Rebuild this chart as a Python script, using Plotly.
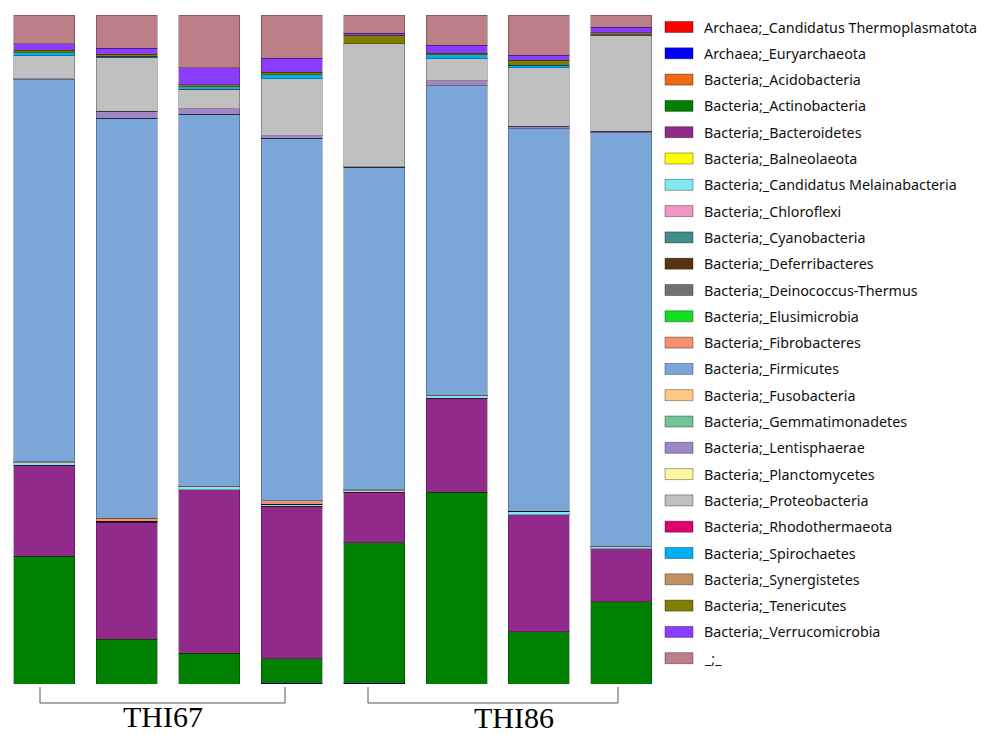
import plotly.graph_objects as go

samples = ["THI67_1", "THI67_2", "THI67_3", "THI67_4", "THI86_1", "THI86_2", "THI86_3", "THI86_4"]
groups = ["THI67", "THI86"]

taxa = [
    "Archaea;_Candidatus Thermoplasmatota",
    "Archaea;_Euryarchaeota",
    "Bacteria;_Acidobacteria",
    "Bacteria;_Actinobacteria",
    "Bacteria;_Bacteroidetes",
    "Bacteria;_Balneolaeota",
    "Bacteria;_Candidatus Melainabacteria",
    "Bacteria;_Chloroflexi",
    "Bacteria;_Cyanobacteria",
    "Bacteria;_Deferribacteres",
    "Bacteria;_Deinococcus-Thermus",
    "Bacteria;_Elusimicrobia",
    "Bacteria;_Fibrobacteres",
    "Bacteria;_Firmicutes",
    "Bacteria;_Fusobacteria",
    "Bacteria;_Gemmatimonadetes",
    "Bacteria;_Lentisphaerae",
    "Bacteria;_Planctomycetes",
    "Bacteria;_Proteobacteria",
    "Bacteria;_Rhodothermaeota",
    "Bacteria;_Spirochaetes",
    "Bacteria;_Synergistetes",
    "Bacteria;_Tenericutes",
    "Bacteria;_Verrucomicrobia",
    "_;_",
]

colors = [
    "#FF0000", "#0000FF", "#F06A10", "#008000", "#922A8C", "#FFFF00", "#80E8F0",
    "#F096C4", "#3E8E8A", "#5A3412", "#727272", "#10E020", "#F4906E", "#7BA7D8",
    "#FFC884", "#72C496", "#A086C6", "#FFF4A0", "#C0C0C0", "#E0006C", "#00B0F0",
    "#C09264", "#7E7E00", "#8A3CFF", "#BC7F88",
]

thermoplasmatota = [0, 0, 0, 0, 0, 0, 0, 0]
euryarchaeota    = [0, 0, 0, 0.15, 0.15, 0, 0, 0]
acidobacteria    = [0, 0, 0, 0, 0, 0, 0, 0]
actinobacteria   = [19.1, 6.7, 4.6, 3.6, 21.0, 28.7, 7.8, 12.3]
bacteroidetes    = [13.6, 17.5, 24.4, 22.8, 7.5, 14.0, 17.5, 7.9]
balneolaeota     = [0, 0, 0, 0, 0, 0, 0, 0]
melainabacteria  = [0.4, 0.1, 0.5, 0.35, 0.2, 0.4, 0.5, 0.35]
chloroflexi      = [0, 0, 0, 0, 0, 0, 0, 0]
cyanobacteria    = [0, 0, 0, 0, 0, 0, 0, 0]
deferribacteres  = [0, 0, 0, 0, 0, 0, 0, 0]
deinococcus      = [0, 0, 0, 0, 0, 0, 0, 0]
elusimicrobia    = [0, 0, 0, 0, 0, 0, 0, 0]
fibrobacteres    = [0.1, 0.45, 0.05, 0.5, 0.2, 0.05, 0.05, 0.05]
firmicutes       = [57.1, 59.8, 55.6, 54.2, 48.2, 46.3, 57.15, 61.8]
fusobacteria     = [0, 0, 0, 0, 0, 0, 0, 0]
gemmatimonadetes = [0, 0, 0, 0, 0, 0, 0, 0]
lentisphaerae    = [0.2, 1.1, 0.85, 0.35, 0.05, 0.7, 0.4, 0.25]
planctomycetes   = [0, 0, 0, 0, 0, 0, 0, 0]
proteobacteria   = [3.4, 8.0, 2.9, 8.5, 18.4, 3.3, 8.7, 14.35]
rhodothermaeota  = [0, 0, 0, 0, 0, 0, 0, 0]
spirochaetes     = [0.45, 0.15, 0.35, 0.65, 0, 0.6, 0.4, 0.05]
synergistetes    = [0, 0, 0, 0, 0, 0, 0, 0]
tenericutes      = [0.35, 0.35, 0.3, 0.35, 1.25, 0.25, 0.75, 0.3]
verrucomicrobia  = [1.0, 0.9, 2.6, 2.1, 0.35, 1.15, 0.75, 0.8]
unassigned       = [4.3, 4.95, 7.85, 6.45, 2.7, 4.55, 6.0, 1.85]

values = [
    thermoplasmatota, euryarchaeota, acidobacteria, actinobacteria, bacteroidetes,
    balneolaeota, melainabacteria, chloroflexi, cyanobacteria, deferribacteres,
    deinococcus, elusimicrobia, fibrobacteres, firmicutes, fusobacteria,
    gemmatimonadetes, lentisphaerae, planctomycetes, proteobacteria, rhodothermaeota,
    spirochaetes, synergistetes, tenericutes, verrucomicrobia, unassigned,
]

# Figure geometry (page body adds an 8px margin)
W, H = 978, 725
ML, MT = 0, 7
PW, PH = 654, 669
MR = W - ML - PW
MB = H - MT - PH
CAT_PX = 82.43
FIRST_CENTER = 36.4
x_lo = -FIRST_CENTER / CAT_PX
x_hi = x_lo + PW / CAT_PX


def px(xp):
    return (xp - ML) / PW


def py(yp):
    return (MT + PH - yp) / PH


fig = go.Figure()
for name, col, vals in zip(taxa, colors, values):
    fig.add_trace(go.Bar(
        x=samples, y=vals, name=name,
        marker=dict(color=col, line=dict(color="rgba(0,0,0,0.28)", width=1)),
        showlegend=False,
    ))

shapes = []
annotations = []

# Legend (manual, to match wide swatches)
for i, (name, col) in enumerate(zip(taxa, colors)):
    yc = 19 + i * 26.3
    shapes.append(dict(
        type="rect", xref="paper", yref="paper",
        x0=px(657), x1=px(685), y0=py(yc + 5.5), y1=py(yc - 5.5),
        fillcolor=col, line=dict(color="rgba(0,0,0,0.35)", width=1),
    ))
    annotations.append(dict(
        xref="paper", yref="paper", x=px(694), y=py(yc),
        text=name, showarrow=False, xanchor="left", yanchor="middle",
        font=dict(family="Noto Sans", size=14.3, color="#111111"),
    ))

# Group brackets
brackets = [(32, 277, 155, groups[0], 708), (360, 610, 506, groups[1], 709)]
for x0, x1, xc, label, ty in brackets:
    for seg in [(x0, 679, x0, 695), (x0, 695, x1, 695), (x1, 695, x1, 679)]:
        shapes.append(dict(
            type="line", xref="paper", yref="paper",
            x0=px(seg[0]), y0=py(seg[1]), x1=px(seg[2]), y1=py(seg[3]),
            line=dict(color="#555555", width=1),
        ))
    annotations.append(dict(
        xref="paper", yref="paper", x=px(xc), y=py(ty),
        text=label, showarrow=False, xanchor="center", yanchor="middle",
        font=dict(family="Liberation Serif", size=30, color="#000000"),
    ))

fig.update_layout(
    barmode="stack",
    bargap=0.26,
    width=W, height=H,
    margin=dict(l=ML, r=MR, t=MT, b=MB, pad=0),
    paper_bgcolor="white", plot_bgcolor="white",
    xaxis=dict(visible=False, range=[x_lo, x_hi]),
    yaxis=dict(visible=False, range=[0, 100]),
    shapes=shapes,
    annotations=annotations,
)

fig.write_html("out.html")
